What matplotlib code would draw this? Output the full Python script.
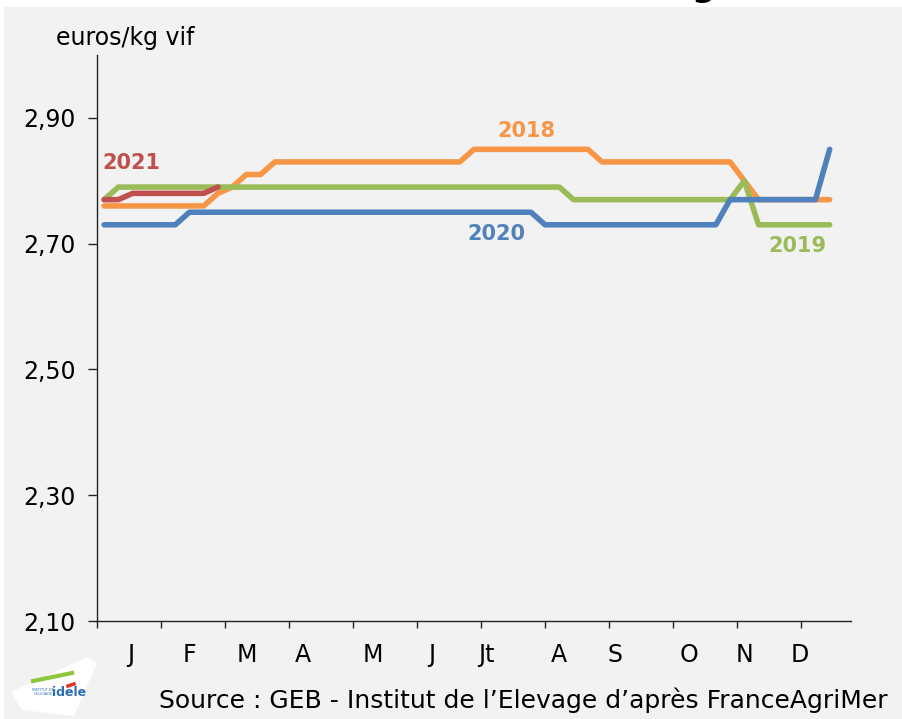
import matplotlib.pyplot as plt
from matplotlib.patches import Rectangle, Polygon

plt.rcParams['font.family'] = ['DejaVu Sans']

# weekly prices, euros/kg vif (week 1 .. week 52)
weeks = list(range(52))
prix_2018 = [2.76, 2.76, 2.76, 2.76, 2.76, 2.76, 2.76, 2.76, 2.78, 2.79,
             2.81, 2.81, 2.83, 2.83, 2.83, 2.83, 2.83, 2.83, 2.83, 2.83,
             2.83, 2.83, 2.83, 2.83, 2.83, 2.83, 2.85, 2.85, 2.85, 2.85,
             2.85, 2.85, 2.85, 2.85, 2.85, 2.83, 2.83, 2.83, 2.83, 2.83,
             2.83, 2.83, 2.83, 2.83, 2.83, 2.80, 2.77, 2.77, 2.77, 2.77,
             2.77, 2.77]
prix_2019 = [2.77, 2.79, 2.79, 2.79, 2.79, 2.79, 2.79, 2.79, 2.79, 2.79,
             2.79, 2.79, 2.79, 2.79, 2.79, 2.79, 2.79, 2.79, 2.79, 2.79,
             2.79, 2.79, 2.79, 2.79, 2.79, 2.79, 2.79, 2.79, 2.79, 2.79,
             2.79, 2.79, 2.79, 2.77, 2.77, 2.77, 2.77, 2.77, 2.77, 2.77,
             2.77, 2.77, 2.77, 2.77, 2.77, 2.80, 2.73, 2.73, 2.73, 2.73,
             2.73, 2.73]
prix_2020 = [2.73, 2.73, 2.73, 2.73, 2.73, 2.73, 2.75, 2.75, 2.75, 2.75,
             2.75, 2.75, 2.75, 2.75, 2.75, 2.75, 2.75, 2.75, 2.75, 2.75,
             2.75, 2.75, 2.75, 2.75, 2.75, 2.75, 2.75, 2.75, 2.75, 2.75,
             2.75, 2.73, 2.73, 2.73, 2.73, 2.73, 2.73, 2.73, 2.73, 2.73,
             2.73, 2.73, 2.73, 2.73, 2.77, 2.77, 2.77, 2.77, 2.77, 2.77,
             2.77, 2.85]
prix_2021 = [2.77, 2.77, 2.78, 2.78, 2.78, 2.78, 2.78, 2.78, 2.79]

mois = ['J', 'F', 'M', 'A', 'M', 'J', 'Jt', 'A', 'S', 'O', 'N', 'D']
mois_pos = [1.9, 6.0, 10.0, 14.0, 18.9, 23.0, 26.9, 32.0, 35.9, 41.1, 45.0, 48.9]
tick_pos = [-0.5, 4, 8.5, 13, 17.5, 22, 26.5, 31, 35.5, 40, 44.5, 49]
yticks = [2.10, 2.30, 2.50, 2.70, 2.90]

orange = '#F79646'
vert = '#9BBB59'
bleu = '#4F81BD'
rouge = '#C0504D'
fond = '#F2F2F2'

fig = plt.figure(figsize=(9.02, 7.19), dpi=100, facecolor='white')
fig.patches.append(Rectangle((4 / 902, 0), 1, 1 - 7 / 719, transform=fig.transFigure,
                             facecolor=fond, edgecolor='none', zorder=-10))
ax = fig.add_axes([97 / 902, 1 - 621 / 719, (851 - 97) / 902, (621 - 55) / 719])
ax.set_zorder(2)
ax.set_facecolor(fond)

lw = 4.0
ax.plot(weeks, prix_2018, color=orange, lw=lw, solid_capstyle='round', solid_joinstyle='round')
ax.plot(weeks, prix_2019, color=vert, lw=lw, solid_capstyle='round', solid_joinstyle='round')
ax.plot(weeks, prix_2020, color=bleu, lw=lw, solid_capstyle='round', solid_joinstyle='round')
ax.plot(weeks[:len(prix_2021)], prix_2021, color=rouge, lw=lw, solid_capstyle='round',
        solid_joinstyle='round')

lab = dict(fontsize=15, fontweight='bold', ha='center', va='center')
ax.text(1.9, 2.829, '2021', color=rouge, **lab)
ax.text(29.7, 2.879, '2018', color=orange, **lab)
ax.text(27.6, 2.716, '2020', color=bleu, **lab)
ax.text(48.7, 2.697, '2019', color=vert, **lab)

ax.set_xlim(-0.5, 52.5)
ax.set_ylim(2.10, 3.00)
for s in ['top', 'right']:
    ax.spines[s].set_visible(False)
for s in ['left', 'bottom']:
    ax.spines[s].set_color('#222222')
    ax.spines[s].set_linewidth(1.0)

ax.set_yticks(yticks)
ax.set_yticklabels([f'{v:.2f}'.replace('.', ',') for v in yticks], fontsize=17)
ax.tick_params(axis='y', length=6.5, width=1, color='#222222', pad=9)

ax.set_xticks(tick_pos)
ax.set_xticklabels([])
ax.set_xticks(mois_pos, minor=True)
ax.set_xticklabels(mois, minor=True, fontsize=17)
ax.tick_params(axis='x', which='major', length=5, width=1, color='#222222')
ax.tick_params(axis='x', which='minor', length=0, pad=16)

fig.text(125 / 902, 1 - 38 / 719, 'euros/kg vif', fontsize=17, ha='center', va='center')
fig.text(523 / 902, 1 - 700 / 719,
         'Source : GEB - Institut de l\u2019Elevage d\u2019apr\u00e8s FranceAgriMer',
         fontsize=18, ha='center', va='center')

# bout du titre coupé en haut
fig.text(703 / 902, 1 + 4 / 719, 'g', fontsize=24, fontweight='bold', ha='center',
         va='baseline')

# logo idele
fig.patches.append(Polygon([(11 / 902, 1 - 692 / 719), (88 / 902, 1 - 657 / 719),
                            (97 / 902, 1 - 663 / 719), (74 / 902, 1 - 716 / 719),
                            (22 / 902, 1 - 710 / 719)],
                           closed=True, transform=fig.transFigure, facecolor='white',
                           edgecolor='none', joinstyle='round', zorder=1))
fig.text(69 / 902, 1 - 693 / 719, 'idele', fontsize=9, fontweight='bold', color='#2E6DB4',
         ha='center', va='center')
fig.text(43 / 902, 1 - 692 / 719, 'INSTITUT DE\nL\u2019ELEVAGE', fontsize=2.5,
         color='#2E6DB4', ha='center', va='center')
fig.lines.append(plt.Line2D([33 / 902, 72 / 902], [1 - 681 / 719, 1 - 673 / 719],
                            transform=fig.transFigure, color='#8DC63F', lw=3))
fig.lines.append(plt.Line2D([68 / 902, 74 / 902], [1 - 686 / 719, 1 - 684 / 719],
                            transform=fig.transFigure, color='#E63027', lw=2.5))

fig.savefig('out.png', dpi=100, facecolor=fig.get_facecolor())
